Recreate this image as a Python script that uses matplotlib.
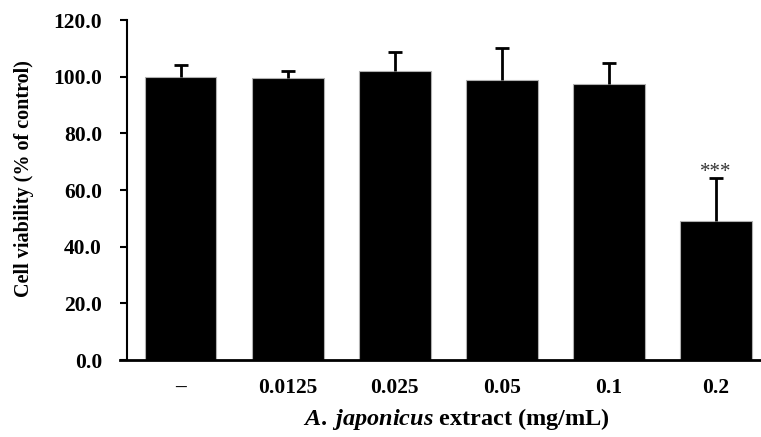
import numpy as np
import matplotlib.pyplot as plt

plt.rcParams['font.family'] = 'Liberation Serif'
plt.rcParams['font.weight'] = 'bold'
plt.rcParams['axes.labelweight'] = 'bold'
plt.rcParams['mathtext.fontset'] = 'custom'
plt.rcParams['mathtext.it'] = 'Liberation Serif:italic:bold'
plt.rcParams['mathtext.rm'] = 'Liberation Serif:bold'

doses = ['\u2013', '0.0125', '0.025', '0.05', '0.1', '0.2']
viability = [100.0, 99.6, 101.9, 99.0, 97.4, 49.0]
sd = [4.0, 2.6, 6.8, 11.0, 7.3, 15.2]
marks = ['', '', '', '', '', '***']

fig = plt.figure(figsize=(7.61, 4.37), dpi=100)
ax = fig.add_axes([0.167, 0.176, 0.833, 0.778])

x = np.arange(len(doses))
ax.bar(x, viability, width=0.67, color='black', edgecolor='#b0b0b0', linewidth=0.8, zorder=2)
eb = ax.errorbar(x, viability, yerr=[np.zeros(len(sd)), sd], fmt='none', ecolor='black',
                 elinewidth=2, capsize=5, capthick=2, zorder=3)
eb[1][0].set_visible(False)  # no cap at bar top
for i in range(len(doses)):
    if marks[i]:
        ax.text(x[i], viability[i] + sd[i] - 1.5, marks[i], ha='center', va='bottom',
                fontsize=15, fontweight='normal', color='#333333')

ax.set_xlim(-0.5, 5.42)
ax.set_ylim(0, 120)
ax.set_yticks(np.arange(0, 121, 20))
ax.set_yticklabels(['%.1f' % v for v in np.arange(0, 121, 20)], fontsize=15.5)
ax.set_xticks(x)
ax.set_xticklabels(doses, fontsize=15.5)
ax.tick_params(axis='x', length=0, pad=13)
ax.tick_params(axis='y', length=5, width=1.5, direction='out', pad=13)
ax.spines['top'].set_visible(False)
ax.spines['right'].set_visible(False)
ax.spines['left'].set_linewidth(1.5)
ax.spines['bottom'].set_linewidth(2)
ax.spines['bottom'].set_bounds(-0.57, 5.42)

ax.set_ylabel('Cell viability (% of control)', fontsize=14.5)
ax.yaxis.set_label_coords(-0.147, 0.535)
ax.set_xlabel(r'$\mathit{A.\;japonicus}$ extract (mg/mL)', fontsize=17.5)
ax.xaxis.set_label_coords(0.52, -0.135)

plt.savefig('out.png', dpi=100)
